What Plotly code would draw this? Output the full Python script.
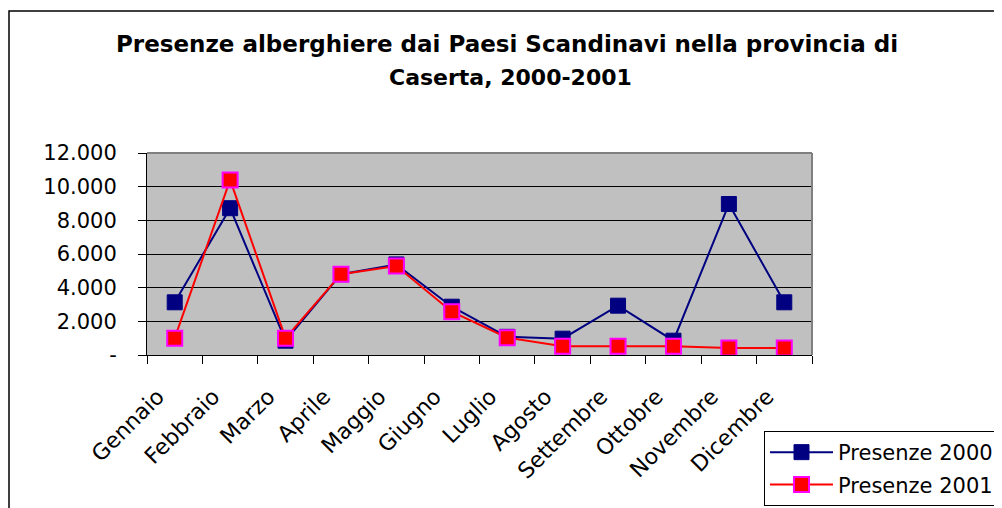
import plotly.graph_objects as go

months = ["Gennaio", "Febbraio", "Marzo", "Aprile", "Maggio", "Giugno",
          "Luglio", "Agosto", "Settembre", "Ottobre", "Novembre", "Dicembre"]
presenze_2000 = [3130, 8720, 850, 4800, 5380, 2870, 1080, 970, 2930, 850, 8970, 3130]
presenze_2001 = [1000, 10400, 1000, 4800, 5290, 2570, 1030, 520, 520, 520, 420, 420]
series_names = ["Presenze 2000", "Presenze 2001"]
y_tickvals = [0, 2000, 4000, 6000, 8000, 10000, 12000]
y_ticktext = ["-", "2.000", "4.000", "6.000", "8.000", "10.000", "12.000"]
title_line1 = "Presenze alberghiere dai Paesi Scandinavi nella provincia di"
title_line2 = "Caserta, 2000-2001"

W, H = 1002, 508
OFF = 8  # page body margin offset
# plot area in screenshot pixels
SL, SR, ST, SB = 147, 812, 153, 355
L, R, T, B = SL - OFF, SR - OFF, ST - OFF, SB - OFF
pw, ph = R - L, B - T

def px(x):
    return (x - SL) / pw

def py(y):
    return (SB - y) / ph

FONT = "DejaVu Sans"

fig = go.Figure()
fig.add_trace(go.Scatter(
    x=months, y=presenze_2000, name=series_names[0], mode="lines+markers",
    line=dict(color="#000080", width=2),
    marker=dict(symbol="square", size=15, color="#000080",
                line=dict(color="#000080", width=1)),
    legendgroup="a",
))
fig.add_trace(go.Scatter(
    x=months, y=presenze_2001, name=series_names[1], mode="lines+markers",
    line=dict(color="#FF0000", width=2),
    marker=dict(symbol="square", size=15, color="#FF0000",
                line=dict(color="#FF00FF", width=2)),
    legendgroup="b",
))

shapes = [
    # outer chart border (extends past the right and bottom edges)
    dict(type="rect", xref="paper", yref="paper",
         x0=px(9), x1=px(1020), y0=py(525), y1=py(11),
         line=dict(color="#000000", width=1.5), layer="below"),
    # plot area gray border (top and right)
    dict(type="line", xref="paper", yref="paper", x0=0, x1=1, y0=1, y1=1,
         line=dict(color="#808080", width=2), layer="above"),
    dict(type="line", xref="paper", yref="paper", x0=1, x1=1, y0=0, y1=1,
         line=dict(color="#808080", width=2), layer="above"),
]

annotations = [
    dict(text="<b>" + title_line1 + "</b>", xref="paper", yref="paper",
         x=px(507), y=py(44), xanchor="center", yanchor="middle",
         showarrow=False, font=dict(family=FONT, size=23, color="black")),
    dict(text="<b>" + title_line2 + "</b>", xref="paper", yref="paper",
         x=px(510), y=py(78), xanchor="center", yanchor="middle",
         showarrow=False, font=dict(family=FONT, size=22, color="black")),
]

fig.update_layout(
    width=W, height=H,
    margin=dict(l=L, r=W - R, t=T, b=H - B, pad=0, autoexpand=False),
    paper_bgcolor="white",
    plot_bgcolor="#C0C0C0",
    font=dict(family=FONT, size=20, color="black"),
    shapes=shapes,
    annotations=annotations,
    showlegend=True,
    legend=dict(
        x=px(764), y=py(431), xanchor="left", yanchor="top",
        bgcolor="white", bordercolor="#000000", borderwidth=1,
        font=dict(family=FONT, size=21, color="black"),
        itemwidth=63, tracegroupgap=2,
    ),
)

fig.update_xaxes(
    type="category", range=[-0.5, len(months) - 0.5],
    tickangle=-45, tickson="boundaries",
    ticks="outside", ticklen=8, tickcolor="black", tickwidth=1,
    showline=True, linecolor="black", linewidth=1,
    showgrid=False, zeroline=False, automargin=False,
    tickfont=dict(family=FONT, size=22, color="black"),
    ticklabelstandoff=19, ticklabelshift=-17,
)
fig.update_yaxes(
    range=[0, 12000], tickvals=y_tickvals, ticktext=y_ticktext,
    ticks="outside", ticklen=8, tickcolor="black", tickwidth=1,
    showline=True, linecolor="black", linewidth=1,
    showgrid=True, gridcolor="#000000", gridwidth=1, zeroline=False,
    automargin=False,
    tickfont=dict(family=FONT, size=21, color="black"),
    ticklabelstandoff=17,
)

fig.write_html("out.html")
